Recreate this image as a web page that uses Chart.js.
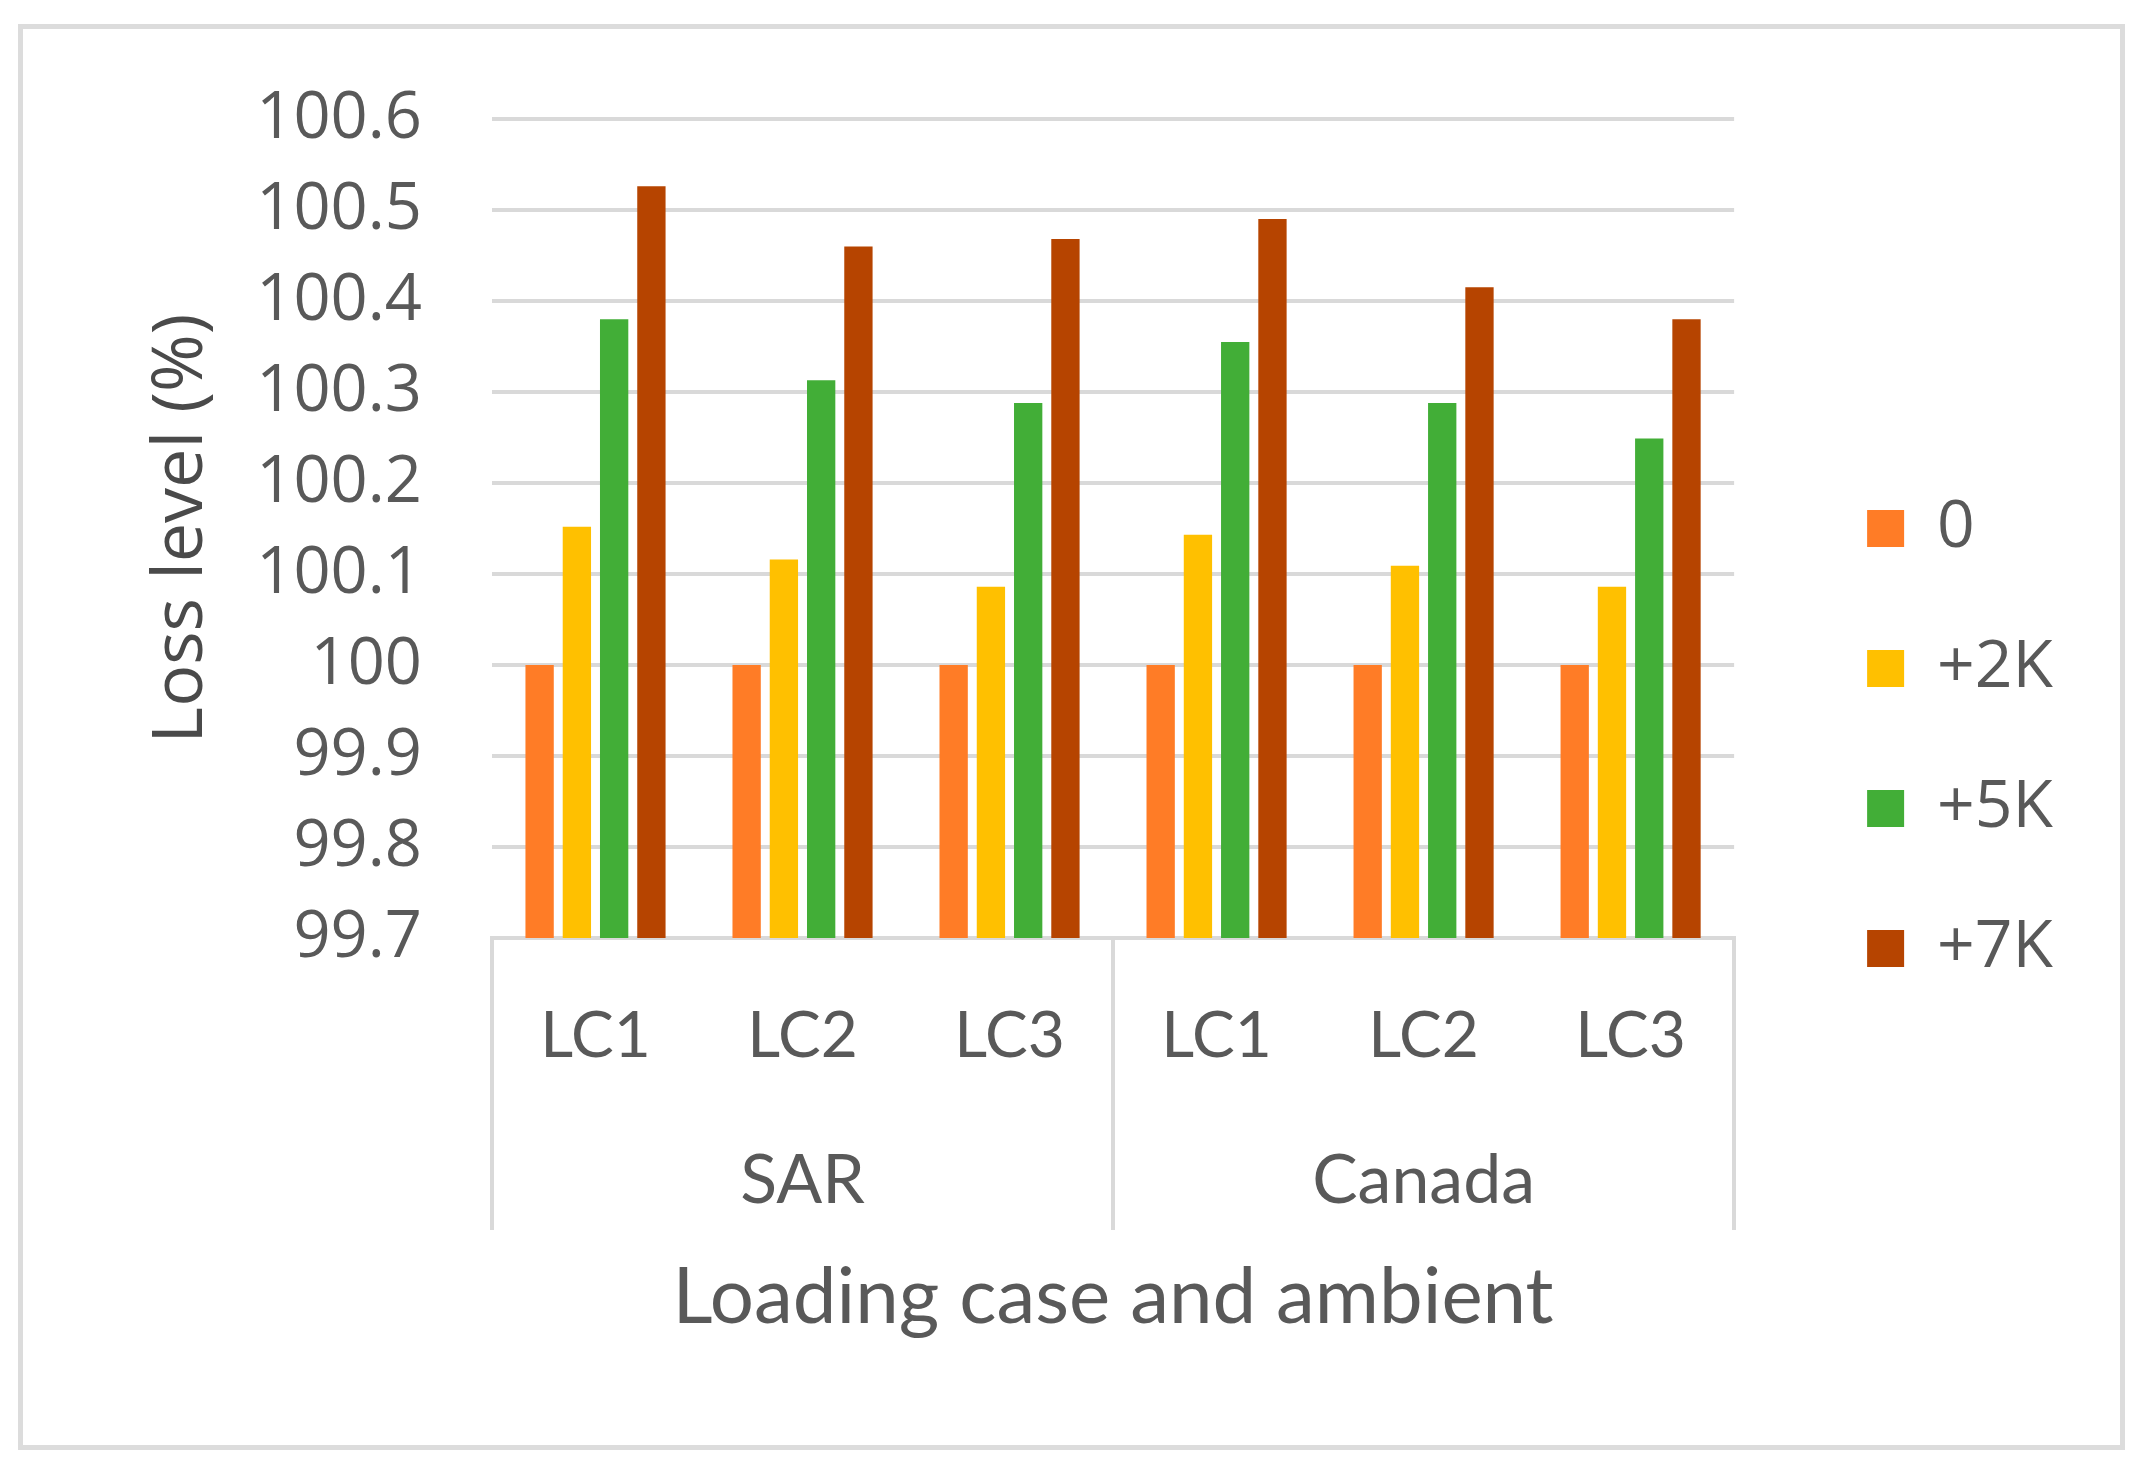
<!DOCTYPE html>
<html>
<head>
<meta charset="utf-8">
<script src="https://cdn.jsdelivr.net/npm/chart.js@4/dist/chart.umd.min.js"></script>
<style>
  html, body { margin: 0; padding: 0; background: #ffffff; overflow: hidden; }
  #wrap { position: absolute; left: 0; top: 0; width: 2148px; height: 1484px; }
  #frame { position: absolute; left: 18px; top: 24px; width: 2107px; height: 1426px;
           box-sizing: border-box; border: 5px solid #dcdcdc; pointer-events: none; }
  canvas { position: absolute; left: 0; top: 0; }
</style>
</head>
<body>
<div id="wrap">
  <canvas id="c" width="2148" height="1484"></canvas>
  <div id="frame"></div>
</div>
<script>
// ---- data ----
const categories = ['LC1', 'LC2', 'LC3', 'LC1', 'LC2', 'LC3'];
const groups = ['SAR', 'Canada'];
const seriesNames = ['0', '+2K', '+5K', '+7K'];
const s0  = [100, 100, 100, 100, 100, 100];
const s2K = [100.152, 100.116, 100.086, 100.143, 100.109, 100.086];
const s5K = [100.380, 100.313, 100.288, 100.355, 100.288, 100.249];
const s7K = [100.526, 100.460, 100.468, 100.490, 100.415, 100.380];
const yTicks = [99.7, 99.8, 99.9, 100, 100.1, 100.2, 100.3, 100.4, 100.5, 100.6];
const yTitle = 'Loss level (%)';
const xTitle = 'Loading case and ambient';

const colors = ['#FF7C26', '#FFC000', '#42AE37', '#B64400'];
const seriesValues = [s0, s2K, s5K, s7K];

const gridGray = '#d9d9d9';
const textGray = '#595959';

const chart = new Chart(document.getElementById('c'), {
  type: 'bar',
  data: {
    labels: categories,
    datasets: seriesNames.map((name, i) => ({
      label: name,
      data: seriesValues[i],
      backgroundColor: colors[i],
      borderWidth: 0,
      barPercentage: 0.76,
      categoryPercentage: 0.72
    }))
  },
  options: {
    responsive: false,
    devicePixelRatio: 1,
    animation: false,
    layout: { padding: { left: 140, top: 119, right: 85, bottom: 126 } },
    plugins: {
      tooltip: { enabled: false },
      legend: {
        position: 'right',
        labels: {
          boxWidth: 37,
          boxHeight: 37,
          padding: 74,
          color: textGray,
          font: { family: "'Open Sans', sans-serif", size: 66 }
        }
      }
    },
    scales: {
      y: {
        min: 99.7,
        max: 100.6,
        afterBuildTicks: (s) => { s.ticks = yTicks.map(v => ({ value: v })); },
        afterFit: (s) => { s.width = 352; },
        grid: { color: gridGray, lineWidth: 4, drawTicks: false },
        border: { display: false },
        ticks: {
          padding: 70,
          color: textGray,
          font: { family: "'Open Sans', sans-serif", size: 65 },
          callback: (v) => String(v)
        },
        title: {
          display: true,
          text: yTitle,
          color: '#4a4a4a',
          padding: 0,
          font: { family: "'Open Sans', sans-serif", size: 70 }
        }
      },
      yR: {
        type: 'linear',
        position: 'right',
        display: true,
        grid: { display: false },
        border: { display: false },
        ticks: { display: false },
        afterFit: (s) => { s.width = 59; }
      },
      x: {
        position: 'bottom',
        weight: 0,
        offset: true,
        afterFit: (s) => { s.height = 170; },
        grid: {
          offset: true,
          drawOnChartArea: false,
          drawTicks: true,
          tickLength: 170,
          lineWidth: 4,
          color: (c) => (c.type === 'tick' && c.index % 3 !== 0) ? 'rgba(0,0,0,0)' : gridGray
        },
        border: { display: true, color: gridGray, width: 4 },
        ticks: {
          autoSkip: false,
          maxRotation: 0,
          minRotation: 0,
          padding: -110,
          color: textGray,
          font: { family: "Lato, sans-serif", size: 64 }
        }
      },
      x2: {
        type: 'category',
        labels: groups,
        position: 'bottom',
        weight: 1,
        offset: true,
        afterFit: (s) => { s.height = 250; },
        grid: {
          offset: true,
          drawOnChartArea: false,
          drawTicks: true,
          tickLength: 122,
          lineWidth: 4,
          color: gridGray
        },
        border: { display: false },
        ticks: {
          autoSkip: false,
          maxRotation: 0,
          minRotation: 0,
          padding: -90,
          color: textGray,
          font: { family: "Lato, sans-serif", size: 68 }
        },
        title: {
          display: true,
          text: xTitle,
          color: textGray,
          padding: { top: 0, bottom: 13 },
          font: { family: "Lato, sans-serif", size: 78 }
        }
      }
    }
  }
});
</script>
</body>
</html>
